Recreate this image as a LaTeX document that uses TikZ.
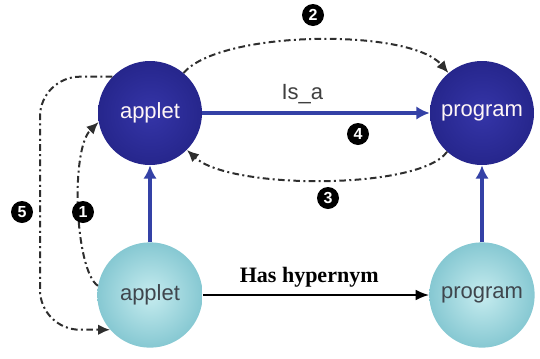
\documentclass[tikz,border=0pt]{standalone}
\usepackage{fontspec}
\setmainfont{Liberation Serif}
\setsansfont{Liberation Sans}
\usetikzlibrary{arrows.meta}

\definecolor{conceptblue}{HTML}{26268C}
\definecolor{conceptlight}{HTML}{3535A8}
\definecolor{wordcyan}{HTML}{86C8D2}
\definecolor{wordlight}{HTML}{C6ECEF}
\definecolor{linkblue}{HTML}{3441A6}
\definecolor{pathgray}{HTML}{2E2E2E}

\begin{document}
\begin{tikzpicture}[x=0.75pt, y=-0.75pt,
  concept/.style={circle, minimum size=78pt, inner sep=0pt, inner color=conceptlight, outer color=conceptblue,
    text=white!85!pink, font=\sffamily\fontsize{16.5}{18}\selectfont},
  word/.style={circle, minimum size=79pt, inner sep=0pt, inner color=wordlight, outer color=wordcyan,
    text=black!80!cyan, font=\sffamily\fontsize{16.5}{18}\selectfont},
  badge/.style={circle, fill=black, minimum size=16.5pt, inner sep=0pt, text=white,
    font=\sffamily\bfseries\fontsize{12}{12}\selectfont},
  isa/.style={draw=linkblue, line width=3pt, -{Latex[length=10pt,width=10pt]}},
  hyp/.style={draw=black, line width=1.3pt, -{Latex[length=10pt,width=8pt]}},
  walk/.style={draw=pathgray, line width=1.5pt, dash pattern=on 5pt off 2.5pt on 1.5pt off 2.5pt,
    -{Latex[length=9pt,width=8pt]}}]

\useasboundingbox (0,0) rectangle (540,358);

% concepts on top, words below
\node[concept] (applet) at (150,113) {applet};
\node[concept] (program) at (482,113) {program};
\node[word] (appletw) at (150,295) {applet};
\node[word] (programw) at (482,295) {program};

\draw[isa] (applet) -- (program) node[pos=0.44, above, inner sep=5pt, text=black!75, font=\sffamily\fontsize{16.5}{18}\selectfont] {Is\_a};
\draw[isa] (appletw) -- (applet);
\draw[isa] (programw) -- (program);
\draw[hyp] (appletw) -- (programw) node[pos=0.47, above, inner sep=5pt, font=\bfseries\fontsize{16.5}{18}\selectfont] {Has hypernym};

% numbered walk between the nodes
\draw[walk] (appletw.170) .. controls (75,270) and (70,150) .. (applet.190);
\draw[walk] (applet.50) .. controls (220,30) and (410,28) .. (program.130);
\draw[walk] (program.228) .. controls (420,190) and (230,190) .. (applet.-45);
\coordinate (bend) at (40,200);
\draw[walk, rounded corners=30pt] (applet.136) -| (bend) |- (appletw.221);

\node[badge] (n1) at (83,212) {1};
\node[badge] (n2) at (313,15) {2};
\node[badge] (n3) at (328,198) {3};
\node[badge] (n4) at (358,134) {4};
\node[badge] (n5) at (22,212) {5};

\end{tikzpicture}
\end{document}
